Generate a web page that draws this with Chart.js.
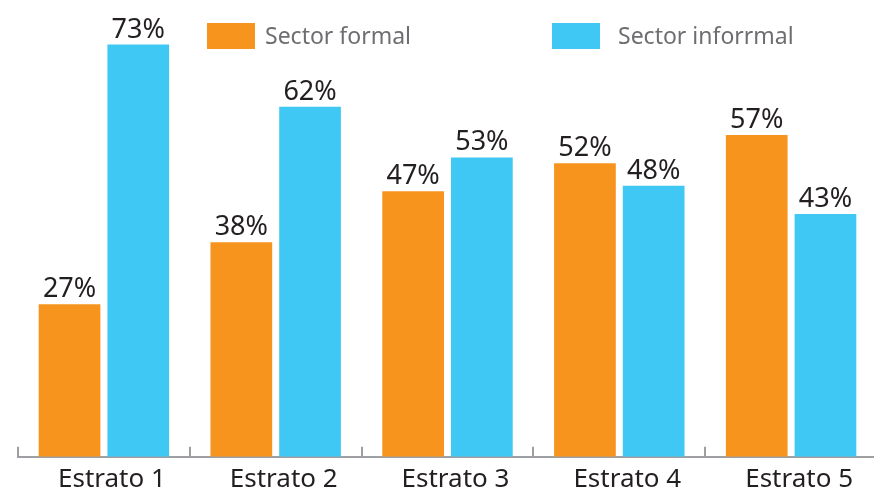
<!DOCTYPE html>
<html>
<head>
<meta charset="utf-8">
<script src="https://cdn.jsdelivr.net/npm/chart.js@4"></script>
<style>
  html, body { margin: 0; padding: 0; background: #fff; overflow: hidden; }
  canvas { display: block; }
</style>
</head>
<body>
<!-- canvas is a few px wider than the window: the last category runs past the right edge in the original -->
<canvas id="chart" width="877" height="494"></canvas>
<script>
// ── Data ─────────────────────────────────────────────────────────────────────
const CATEGORIES = ['Estrato 1', 'Estrato 2', 'Estrato 3', 'Estrato 4', 'Estrato 5'];
const SERIES_LABELS = ['Sector formal', 'Sector inforrmal'];
const FORMAL   = [27, 38, 47, 52, 57];
const INFORMAL = [73, 62, 53, 48, 43];

const ORANGE = '#F7941D';
const BLUE   = '#40C8F4';
const FONT   = "'Noto Sans', 'Open Sans', sans-serif";

// ── Value labels above each bar ──────────────────────────────────────────────
const valueLabels = {
  id: 'valueLabels',
  afterDatasetsDraw(chart) {
    const ctx = chart.ctx;
    ctx.save();
    ctx.fillStyle = '#231F20';
    ctx.font = `27px ${FONT}`;
    ctx.textAlign = 'center';
    ctx.textBaseline = 'alphabetic';
    chart.data.datasets.forEach((ds, i) => {
      chart.getDatasetMeta(i).data.forEach((bar, j) => {
        ctx.fillText(ds.data[j] + '%', bar.x, bar.y - 7);
      });
    });
    ctx.restore();
  }
};

// ── Legend drawn at fixed spots (items are far apart in the original) ────────
const spreadLegend = {
  id: 'spreadLegend',
  afterDraw(chart, args, opts) {
    const ctx = chart.ctx;
    ctx.save();
    ctx.font = `23px ${FONT}`;
    ctx.textBaseline = 'middle';
    ctx.textAlign = 'left';
    chart.data.datasets.forEach((ds, i) => {
      const x = opts.xs[i];
      ctx.fillStyle = ds.backgroundColor;
      ctx.fillRect(x, opts.y, opts.boxW, opts.boxH);
      ctx.fillStyle = '#6D6E71';
      ctx.fillText(ds.label, x + opts.boxW + opts.gaps[i], opts.y + opts.boxH / 2 + 1);
    });
    ctx.restore();
  }
};

new Chart(document.getElementById('chart').getContext('2d'), {
  type: 'bar',
  data: {
    labels: CATEGORIES,
    datasets: [
      { label: SERIES_LABELS[0], data: FORMAL,   backgroundColor: ORANGE },
      { label: SERIES_LABELS[1], data: INFORMAL, backgroundColor: BLUE },
    ],
  },
  options: {
    responsive: false,
    devicePixelRatio: 1,
    animation: false,
    categoryPercentage: 0.80,
    barPercentage: 0.898,
    layout: { padding: { left: 18, right: 0, top: 5, bottom: -18 } },
    plugins: {
      legend: { display: false },
      tooltip: { enabled: false },
      spreadLegend: { xs: [207, 552], gaps: [10, 18], y: 23, boxW: 48, boxH: 26 },
    },
    scales: {
      x: {
        grid: {
          offset: true,
          drawOnChartArea: false,
          drawTicks: true,
          tickLength: -10,
          color: '#9D9FA2',
          lineWidth: 2,
        },
        border: { display: true, color: '#9D9FA2', width: 2 },
        ticks: {
          color: '#231F20',
          font: { family: FONT, size: 26 },
          padding: 17,
          labelOffset: 8,
          maxRotation: 0,
        },
      },
      y: {
        display: false,
        min: 0,
        max: 80,
      },
    },
  },
  plugins: [valueLabels, spreadLegend],
});
</script>
</body>
</html>
